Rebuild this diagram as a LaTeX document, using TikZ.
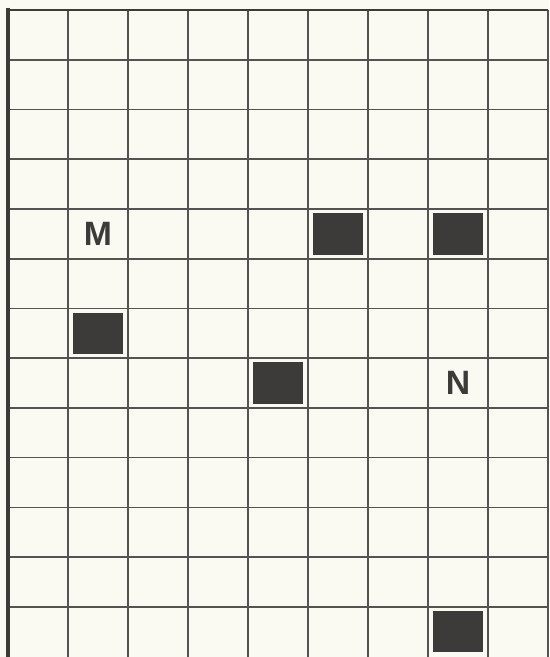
\documentclass[tikz,border=0pt]{standalone}
\usepackage{fontspec}
\setsansfont{Liberation Sans}
\usepackage{xcolor}
\usepackage{tikz}
\usetikzlibrary{positioning}
\definecolor{paper}{HTML}{FBFAF2}
\definecolor{ink}{HTML}{3C3B39}
\definecolor{rule}{HTML}{545351}
\tikzset{
  gridline/.style = {draw=rule, line width=0.75pt},
  leftedge/.style = {draw=ink, line width=1.9pt},
  topedge/.style  = {draw=ink, line width=1.4pt},
  block/.style    = {fill=ink, draw=none, minimum width=0.83cm,
                     minimum height=0.69cm, inner sep=0pt},
  letter/.style   = {text=ink, font=\fontsize{16}{16}\selectfont\sffamily\bfseries,
                     inner sep=0pt},
}

\begin{document}
\begin{tikzpicture}[x=1cm, y=-0.829cm]

% paper and frame of the picture
\fill[paper] (-0.133cm,0.167cm) rectangle (9.017cm,-10.783cm);
\useasboundingbox (-0.133cm,0.167cm) rectangle (9.017cm,-10.783cm);

% ========== grid: 9 columns, 13 rows (last one cut off) ==========
\foreach \i in {1,...,9}
  \draw[gridline] (\i,0) -- (\i,13);
\foreach \j in {1,...,12}
  \draw[gridline] (0,\j) -- (9,\j);
\draw[topedge] (-0.03,0) -- (9,0);
\draw[leftedge] (0,-0.05) -- (0,13);

% ========== letters ==========
\node[letter] (m) at (1.5,4.5) {M};
\node[letter] (n) at (7.5,7.5) {N};

% ========== black squares ==========
\node[block] (bA) at (5.5,4.5) {};
\node[block] (bB) at (7.5,4.5) {};
\node[block] (bC) at (1.5,6.5) {};
\node[block] (bD) at (4.5,7.5) {};
\node[block] (bE) at (7.5,12.5) {};

\end{tikzpicture}
\end{document}
